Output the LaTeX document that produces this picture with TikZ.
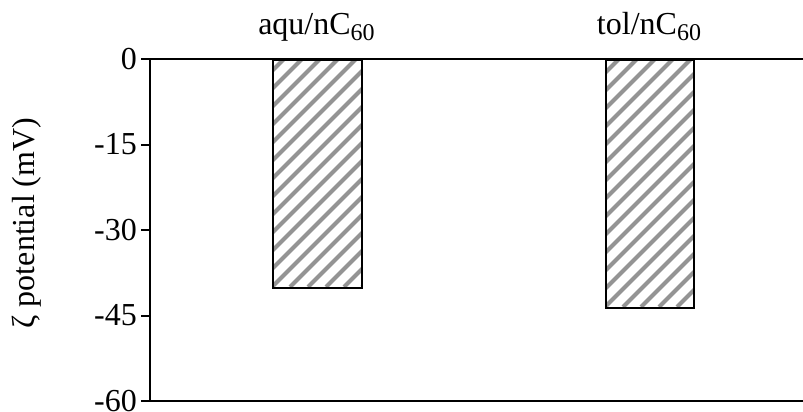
\documentclass[tikz,border=0pt]{standalone}
\usepackage{fontspec}
\setmainfont{Liberation Serif}
\begin{document}
\begin{tikzpicture}[x=1pt,y=-1pt,
  axisline/.style={line width=2pt,black},
  barbox/.style={line width=2pt,black},
  hatchline/.style={line width=4pt,black!42},
  ticklabel/.style={anchor=east,inner sep=0pt,font=\fontsize{32}{34}\selectfont},
  catlabel/.style={anchor=base,inner sep=0pt,font=\fontsize{32}{34}\selectfont}]
\useasboundingbox (0,0) rectangle (803,412);
% bars
\foreach \nm/\xa/\xb/\yb in {aqu/272/361/287,tol/605/693/307}{
  \begin{scope}
    \clip (\xa,59) rectangle (\xb,\yb);
    \foreach \k in {-20,...,20}{
      \draw[hatchline] (\xa+\k*18,\yb) -- ++(300,-300);
    }
  \end{scope}
  \node[draw,barbox,inner sep=0pt,minimum width=\xb-\xa,minimum height=\yb-59,anchor=north west] (\nm) at (\xa,59) {};
}
% axes
\coordinate (tl) at (141,59);
\coordinate (tr) at (803,59);
\coordinate (bl) at (141,401);
\coordinate (br) at (803,401);
\coordinate (ax0) at (150,59);
\coordinate (ax1) at (150,401);
\draw[axisline] (tl) -- (tr);
\draw[axisline] (bl) -- (br);
\draw[axisline] (ax0) -- (ax1);
\foreach \v/\yy in {15/144.5,30/230,45/315.5}{
  \coordinate (t\v) at (141,\yy);
  \coordinate (u\v) at (150,\yy);
  \draw[axisline] (t\v) -- (u\v);
}
% tick labels
\node[ticklabel] (l0) at (137,59) {0};
\node[ticklabel] (l15) at (137,144.5) {-15};
\node[ticklabel] (l30) at (137,230) {-30};
\node[ticklabel] (l45) at (137,315.5) {-45};
\node[ticklabel] (l60) at (137,401) {-60};
% category labels
\node[catlabel] (caqu) at (316.5,35) {aqu/nC\raisebox{-0.18em}{\fontsize{24}{26}\selectfont 60}};
\node[catlabel] (ctol) at (649,35) {tol/nC\raisebox{-0.18em}{\fontsize{24}{26}\selectfont 60}};
% y title
\node[rotate=90,inner sep=0pt,font=\fontsize{32}{34}\selectfont] (ytitle) at (27,223) {ζ potential (mV)};
\end{tikzpicture}
\end{document}
